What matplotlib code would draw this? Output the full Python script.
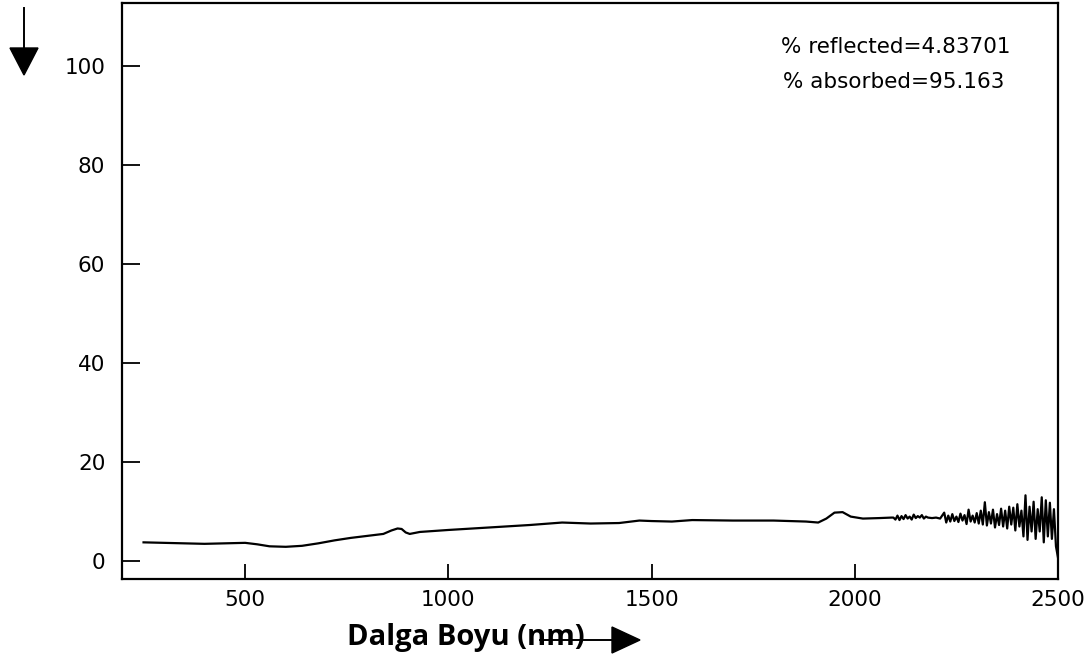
import matplotlib.pyplot as plt
from matplotlib.patches import Polygon
from matplotlib.lines import Line2D

# wavelength (nm) and % reflectance
wl_smooth = [250, 300, 350, 400, 450, 500, 530, 560, 600, 640, 680, 720, 760, 800,
             840, 860, 875, 885, 895, 905, 930, 1000, 1100, 1200, 1280, 1350, 1420,
             1470, 1500, 1550, 1600, 1700, 1800, 1880, 1910, 1930, 1950, 1970, 1990,
             2020, 2060, 2090]
refl_smooth = [3.8, 3.7, 3.6, 3.5, 3.6, 3.7, 3.4, 3.0, 2.9, 3.1, 3.6, 4.2, 4.7, 5.1,
               5.5, 6.2, 6.6, 6.5, 5.8, 5.5, 5.9, 6.3, 6.8, 7.3, 7.8, 7.6, 7.7,
               8.2, 8.1, 8.0, 8.3, 8.2, 8.2, 8.0, 7.8, 8.6, 9.8, 9.9, 9.0,
               8.6, 8.7, 8.8]

# noisy tail of the trace
wl_noise = [2095, 2100, 2105, 2110, 2115, 2120, 2125, 2130, 2135, 2140, 2145, 2150,
            2155, 2160, 2165, 2170, 2175, 2180, 2190, 2200, 2210, 2220, 2225, 2230,
            2235, 2240, 2245, 2250, 2255, 2260, 2265, 2270, 2275, 2280, 2285, 2290,
            2295, 2300, 2305, 2310, 2315, 2320, 2325, 2330, 2335, 2340, 2345, 2350,
            2355, 2360, 2365, 2370, 2375, 2380, 2385, 2390, 2395, 2400, 2405, 2410,
            2415, 2420, 2425, 2430, 2435, 2440, 2445, 2450, 2455, 2460, 2465, 2470,
            2475, 2480, 2485, 2490, 2495, 2500]
refl_noise = [8.8, 8.4, 9.2, 8.3, 9.1, 8.5, 9.3, 8.6, 9.0, 8.4, 9.4, 8.7,
              9.1, 8.8, 9.3, 8.6, 9.0, 8.8, 8.7, 8.8, 8.6, 9.8, 7.8, 9.2,
              8.0, 9.5, 8.1, 9.0, 7.9, 9.6, 8.2, 9.3, 7.5, 10.4, 8.0, 9.2,
              7.8, 9.7, 7.6, 10.2, 7.4, 11.9, 7.2, 9.9, 7.6, 10.4, 6.8, 9.5,
              7.3, 10.6, 7.0, 10.2, 6.6, 11.0, 7.4, 10.8, 6.2, 11.5, 7.0, 10.2,
              5.0, 13.3, 4.3, 11.0, 6.0, 12.0, 4.5, 10.5, 6.0, 12.9, 3.8, 12.3,
              5.0, 11.8, 4.5, 10.5, 3.0, 0.7]

x_ticks = [500, 1000, 1500, 2000, 2500]
y_ticks = [0, 20, 40, 60, 80, 100]

W, H = 1088, 657
fig = plt.figure(figsize=(W / 100, H / 100), dpi=100)
ax = fig.add_axes([122 / W, 1 - 579 / H, (1058 - 122) / W, (579 - 3) / H])

ax.plot(wl_smooth + wl_noise, refl_smooth + refl_noise, color='black', lw=1.6)

ax.set_xlim(197, 2500)
ax.set_ylim(-3.6, 112.7)
ax.set_xticks(x_ticks)
ax.set_yticks(y_ticks)
ax.tick_params(axis='both', direction='in', width=1.3, labelsize=15.5)
ax.tick_params(axis='x', length=11, pad=8)
ax.tick_params(axis='y', length=13, pad=12)
for s in ax.spines.values():
    s.set_linewidth(1.6)

ax.text(0.949, 0.924, '% reflected=4.83701', transform=ax.transAxes,
        ha='right', va='center', fontsize=15.5)
ax.text(0.943, 0.863, '% absorbed=95.163', transform=ax.transAxes,
        ha='right', va='center', fontsize=15.5)


def fx(px):
    return px / W


def fy(py):
    return 1 - py / H


# x-axis label with arrow struck through "nm)"
fig.text(fx(347), fy(637), 'Dalga Boyu (nm)', family='Open Sans', weight='bold',
         fontsize=21, ha='left', va='center')
fig.add_artist(Line2D([fx(540), fx(615)], [fy(640), fy(640)], color='black', lw=1.4))
fig.add_artist(Polygon([[fx(612), fy(627)], [fx(612), fy(653)], [fx(640), fy(640)]],
                       closed=True, color='black', transform=fig.transFigure))

# arrow at top left
fig.add_artist(Line2D([fx(24), fx(24)], [fy(8), fy(50)], color='black', lw=1.4))
fig.add_artist(Polygon([[fx(10), fy(48)], [fx(38), fy(48)], [fx(24), fy(75)]],
                       closed=True, color='black', transform=fig.transFigure))

fig.savefig('out.png', dpi=100)
